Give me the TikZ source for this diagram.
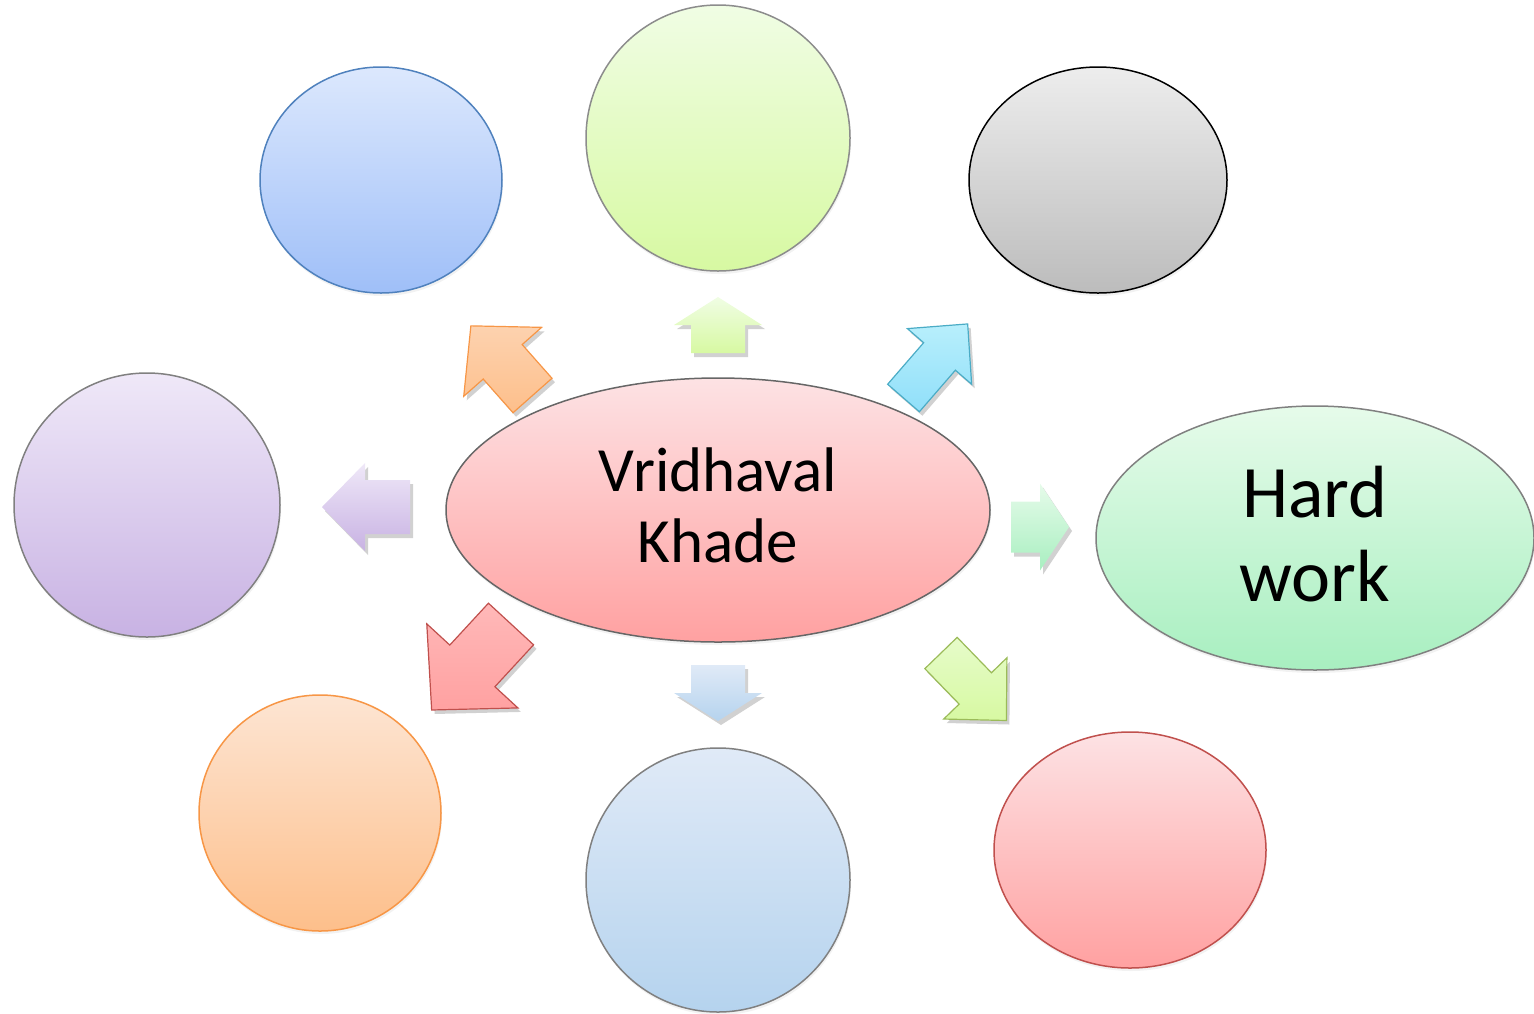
\documentclass[tikz,border=0pt]{standalone}
\usepackage{fontspec}
\setmainfont{Carlito}
\usepackage{tikz}
\usetikzlibrary{shapes.geometric,shadows}
% bubble colours: top, bottom, line
\definecolor{blueA}{HTML}{DCE8FD}\definecolor{blueB}{HTML}{9FBFF8}\definecolor{blueL}{HTML}{4F81BD}
\definecolor{limeA}{HTML}{F0FDE4}\definecolor{limeB}{HTML}{D7F9A2}
\definecolor{greyA}{HTML}{EDEDED}\definecolor{greyB}{HTML}{BCBCBC}
\definecolor{lilaA}{HTML}{EFE8F8}\definecolor{lilaB}{HTML}{C8B2E3}
\definecolor{pinkA}{HTML}{FDE2E4}\definecolor{pinkB}{HTML}{FFA1A1}
\definecolor{mintA}{HTML}{E6FBEA}\definecolor{mintB}{HTML}{A8EFC0}
\definecolor{peachA}{HTML}{FDE5D3}\definecolor{peachB}{HTML}{FDBF8B}\definecolor{peachL}{HTML}{F79646}
\definecolor{skyA}{HTML}{E0EAF7}\definecolor{skyB}{HTML}{B5D3EE}
\definecolor{roseL}{HTML}{C0504D}
\definecolor{cyanA}{HTML}{B8EFFC}\definecolor{cyanB}{HTML}{90DFF9}\definecolor{cyanL}{HTML}{4BACC6}
\definecolor{oliveL}{HTML}{9BBB59}
\def\blockpath#1#2#3#4{(0,-#2) -- ({#1-#4},-#2) -- ({#1-#4},-#3) -- (#1,0) -- ({#1-#4},#3) -- ({#1-#4},#2) -- (0,#2) -- cycle}
% style, tail, angle, length, shaft half, head half, head length
\newcommand\blockarrow[7]{%
    \fill[black, opacity=.18, shift={#2}, shift={(3,4)}, rotate=#3] \blockpath{#4}{#5}{#6}{#7};
    \path[#1, shift={#2}, rotate=#3] \blockpath{#4}{#5}{#6}{#7};}

\begin{document}
\begin{tikzpicture}[x=1pt,y=-1pt,
    bubble/.style={ellipse, inner sep=0pt, line width=1.5pt, align=center,
        drop shadow={opacity=.1, shadow xshift=1pt, shadow yshift=-3pt}},
    bigtext/.style 2 args={font=\fontsize{#1}{#2}\selectfont, text depth=9pt}]
    \useasboundingbox (0,0) rectangle (1534,1013);

    \node[bubble, draw=blueL, top color=blueA, bottom color=blueB, minimum width=242, minimum height=226] (goalA) at (381,180) {};
    \node[bubble, draw=black!45, top color=limeA, bottom color=limeB, minimum width=264, minimum height=266] (goalB) at (718,138) {};
    \node[bubble, draw=black, top color=greyA, bottom color=greyB, minimum width=258, minimum height=226] (goalC) at (1098,180) {};
    \node[bubble, draw=black!50, top color=lilaA, bottom color=lilaB, minimum width=266, minimum height=264] (goalD) at (147,505) {};
    \node[bubble, draw=black!60, top color=pinkA, bottom color=pinkB, minimum width=544, minimum height=264, bigtext={63}{71}] (vk) at (718,510) {Vridhaval\\Khade};
    \node[bubble, draw=black!50, top color=mintA, bottom color=mintB, minimum width=438, minimum height=264, bigtext={74}{84}] (hw) at (1315,538) {Hard\\work};
    \node[bubble, draw=peachL, top color=peachA, bottom color=peachB, minimum width=242, minimum height=236] (goalE) at (320,813) {};
    \node[bubble, draw=black!50, top color=skyA, bottom color=skyB, minimum width=264, minimum height=264] (goalF) at (718,880) {};
    \node[bubble, draw=roseL, top color=pinkA, bottom color=pinkB, minimum width=272, minimum height=236] (goalG) at (1130,850) {};

    % arrows round the centre
    \blockarrow{draw=peachL, line width=1.2pt, top color=peachA!50!peachB, bottom color=peachB}{(532.5,395.5)}{131.5}{93}{26}{52}{48}
    \blockarrow{draw=cyanL, line width=1.2pt, top color=cyanA, bottom color=cyanB}{(903.5,398)}{49.1}{98}{21}{42.5}{43}
    \blockarrow{draw=roseL, line width=1.2pt, top color=pinkB!75, bottom color=pinkB}{(511,624)}{227.3}{117}{30.7}{62}{60}
    \blockarrow{draw=oliveL, line width=1.2pt, top color=limeA!60!limeB, bottom color=limeB}{(941,653)}{-45.9}{94}{22.5}{44}{44.7}
    \blockarrow{top color=limeA, bottom color=limeB}{(718,353)}{90}{56}{27}{44}{28}
    \blockarrow{top color=lilaA, bottom color=lilaB}{(410,507)}{180}{88}{27}{44}{43}
    \blockarrow{top color=mintA, bottom color=mintB}{(1011,527)}{0}{58}{25.5}{43.5}{29}
    \blockarrow{top color=skyA, bottom color=skyB}{(718,665)}{-90}{56}{27}{44}{28}
\end{tikzpicture}
\end{document}
